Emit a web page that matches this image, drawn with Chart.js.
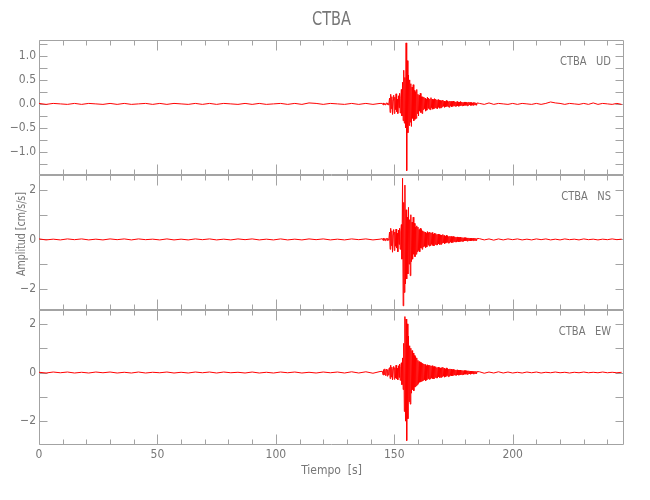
<!DOCTYPE html>
<html>
<head>
<meta charset="utf-8">
<script src="https://cdn.jsdelivr.net/npm/chart.js@4/dist/chart.umd.min.js"></script>
<style>
html, body { margin: 0; padding: 0; background: #fff; }
</style>
</head>
<body>
<canvas id="sismo" width="650" height="500"></canvas>
<script>
const estacion = 'CTBA'
const canales = ['UD', 'NS', 'EW']

// muestreo de cada tramo del registro [s]
const inicioPre = 0, pasoPre = 3
const inicioEvento = 145, pasoEvento = 0.25
const inicioCola = 186, pasoCola = 2

// UD [cm/s/s]
const preUD = [0.01,-0.01,0.01,0,-0.01,0.01,-0.01,0.01,0,-0.01,0.01,-0.01,0.01,-0.01,0,0.01,-0.01,0.01,-0.01,0.01,0,-0.01,0.01,-0.01,0.01,-0.01,0.01,0,-0.01,0.01,-0.01,0.01,-0.01,0,0.01,-0.01,0.01,-0.01,0.02,0.01,-0.01,0.01,0,-0.01,0.01,-0.01,0.01,-0.01,0.01]
const eventoUD = [
  0.01,-0.02,0.02,-0.01,0.01,-0.02,0.01,0.02,-0.01,0.02,-0.02,0.01,
  0.12,-0.18,0.2,-0.1,0.15,-0.22,0.08,0.18,-0.2,0.14,-0.12,0.21,-0.16,0.1,-0.2,0.17,-0.08,0.22,-0.19,0.12,
  0.3,-0.25,0.45,-0.35,0.7,-0.4,0.55,-0.5,
  1.27,-1.39,0.9,-0.6,
  0.6,-0.45,0.5,-0.38,
  0.42,-0.47,0.35,-0.3,0.4,-0.35,0.28,-0.32,0.25,-0.3,0.3,-0.2,
  0.2,-0.25,0.18,-0.15,0.22,-0.18,0.15,-0.2,
  0.15,-0.12,0.14,-0.1,0.12,-0.15,0.1,-0.13,0.14,-0.09,0.12,-0.11,0.1,-0.12,0.13,-0.08,0.1,-0.11,0.09,-0.1,0.11,-0.08,0.1,-0.09,0.08,-0.1,0.09,-0.07,0.08,-0.09,0.07,-0.08,
  0.07,-0.06,0.08,-0.05,0.06,-0.07,0.05,-0.06,0.07,-0.05,0.06,-0.06,0.05,-0.07,0.06,-0.04,0.05,-0.06,0.05,-0.05,0.06,-0.04,0.05,-0.05,0.04,-0.05,0.05,-0.04,0.04,-0.05,0.04,-0.04,0.05,-0.03,0.04,-0.04,0.03,-0.04,0.04,-0.03,0.04,-0.03,0.03,-0.04,0.03,-0.03,0.04,-0.02,0.03,-0.03,0.03,-0.03,0.02,-0.03,0.03,-0.02,0.03,-0.02,0.02,-0.03,0.02
]
const colaUD = [0.01,-0.01,0.02,-0.01,0.01,0,-0.01,0.01,-0.01,0.01,0,-0.01,0.01,-0.01,0.01,0.04,0.02,0.01,-0.01,0.01,0,-0.01,0.01,-0.01,0.02,-0.01,0.01,0,-0.01,0.01,-0.01]

// NS [cm/s/s]
const preNS = [0.02,-0.02,0.01,-0.02,0.02,-0.01,0.02,-0.02,0.01,-0.02,0.02,-0.01,0.02,-0.02,0.02,-0.01,0.01,-0.02,0.02,-0.02,0.01,-0.02,0.02,-0.01,0.02,-0.02,0.01,-0.02,0.02,-0.01,0.02,-0.02,0.01,-0.02,0.02,-0.02,0.01,-0.02,0.02,-0.01,0.02,-0.02,0.01,-0.02,0.02,-0.01,0.02,-0.02,0.01]
const eventoNS = [
  0.03,-0.04,0.05,-0.03,0.04,-0.05,0.03,0.04,-0.04,0.05,-0.03,0.04,
  0.3,-0.4,0.45,-0.25,0.35,-0.52,0.2,0.4,-0.45,0.3,-0.28,0.42,-0.35,0.25,-0.5,0.38,-0.2,0.45,-0.4,0.3,
  0.6,-0.8,2.48,-2.69,1.5,-2.15,2.2,-1.8,
  1.2,-1.6,0.9,-1.4,
  1.3,-1.0,0.8,-1.47,
  1.0,-0.9,0.7,-0.8,0.9,-0.6,0.65,-0.7,0.5,-0.6,0.55,-0.5,
  0.5,-0.45,0.4,-0.5,0.45,-0.35,0.4,-0.4,
  0.35,-0.3,0.32,-0.28,0.3,-0.33,0.25,-0.3,0.32,-0.22,0.28,-0.27,0.3,-0.25,0.26,-0.2,0.28,-0.24,0.22,-0.26,0.25,-0.2,0.24,-0.22,0.2,-0.23,0.22,-0.18,0.2,-0.21,0.18,-0.2,
  0.18,-0.15,0.2,-0.14,0.16,-0.17,0.13,-0.15,0.17,-0.12,0.14,-0.15,0.12,-0.14,0.13,-0.1,0.12,-0.13,0.11,-0.12,0.12,-0.09,0.11,-0.1,0.09,-0.11,0.1,-0.08,0.09,-0.1,0.08,-0.09,0.09,-0.07,0.08,-0.08,0.07,-0.08,0.07,-0.06,0.07,-0.06,0.06,-0.07,0.06,-0.05,0.06,-0.05,0.05,-0.06,0.05,-0.05,0.04,-0.05,0.05,-0.04,0.05,-0.04,0.04,-0.05,0.04
]
const colaNS = [0.03,-0.02,0.02,-0.03,0.02,-0.02,0.02,-0.01,0.02,-0.02,0.01,-0.02,0.02,-0.01,0.02,-0.02,0.01,-0.02,0.02,-0.01,0.01,-0.02,0.02,-0.01,0.01,-0.02,0.01,-0.01,0.02,-0.01,0.01]

// EW [cm/s/s]
const preEW = [0.01,-0.02,0.02,-0.01,0.02,-0.02,0.01,-0.02,0.02,-0.01,0.02,-0.02,0.01,-0.02,0.02,-0.02,0.01,-0.01,0.02,-0.02,0.01,-0.02,0.02,-0.01,0.02,-0.02,0.02,-0.01,0.01,-0.02,0.02,-0.02,0.01,-0.02,0.02,-0.01,0.02,-0.02,0.01,-0.02,0.02,-0.01,0.02,-0.02,0.03,-0.02,0.03,-0.03,0.04]
const eventoEW = [
  0.05,-0.1,0.12,-0.08,0.15,-0.12,0.1,0.14,-0.15,0.12,-0.1,0.15,
  0.2,-0.25,0.3,-0.18,0.22,-0.3,0.15,0.25,-0.28,0.2,-0.22,0.3,-0.25,0.18,-0.3,0.28,-0.2,0.35,-0.32,0.25,
  0.4,-0.5,0.6,-0.7,1.2,-1.6,2.3,-2.0,
  2.2,-2.8,2.0,-1.9,
  1.5,-1.2,1.1,-1.3,
  1.0,-0.85,0.9,-0.7,0.8,-0.75,0.7,-0.6,0.65,-0.55,0.6,-0.5,
  0.5,-0.45,0.45,-0.4,0.42,-0.38,0.4,-0.35,
  0.38,-0.32,0.35,-0.3,0.33,-0.35,0.28,-0.3,0.32,-0.25,0.3,-0.28,0.3,-0.26,0.27,-0.22,0.28,-0.25,0.24,-0.26,0.25,-0.2,0.24,-0.22,0.2,-0.23,0.22,-0.18,0.2,-0.21,0.18,-0.2,
  0.2,-0.17,0.22,-0.15,0.18,-0.19,0.15,-0.17,0.19,-0.13,0.16,-0.17,0.14,-0.15,0.15,-0.12,0.14,-0.14,0.12,-0.13,0.13,-0.1,0.12,-0.11,0.1,-0.12,0.11,-0.09,0.1,-0.11,0.09,-0.1,0.1,-0.08,0.09,-0.09,0.08,-0.09,0.08,-0.07,0.08,-0.07,0.07,-0.08,0.07,-0.06,0.07,-0.06,0.06,-0.07,0.06,-0.05,0.05,-0.06,0.05,-0.05,0.05,-0.04,0.05,-0.05,0.04
]
const colaEW = [0.03,-0.03,0.02,-0.02,0.03,-0.02,0.02,-0.02,0.01,-0.02,0.02,-0.01,0.02,-0.02,0.01,-0.01,0.02,-0.01,0.01,-0.02,0.01,-0.01,0.02,-0.01,0.01,-0.01,0.02,-0.01,0.01,-0.01,0.01]

// rango de cada panel y marcas
const rangoX = [0, 247]
const rangosY = { UD: [-1.48, 1.33], NS: [-2.86, 2.61], EW: [-2.98, 2.57] }
const pasoMenorY = { UD: 0.25, NS: 1, EW: 1 }
const pasoMayorY = { UD: 0.5, NS: 2, EW: 2 }
const decimalesY = { UD: 1, NS: 0, EW: 0 }

const fuente = "'Liberation Sans Narrow', 'DejaVu Sans Condensed', 'DejaVu Sans', sans-serif"
const colorEje = '#a3a3a3'
const colorTexto = '#777777'
const rojo = '#ff0000'

function serie(pre, evento, cola) {
  var puntos = []
  pre.forEach(function (v, i) { puntos.push({ x: inicioPre + i * pasoPre, y: v }) })
  evento.forEach(function (v, i) { puntos.push({ x: inicioEvento + i * pasoEvento, y: v }) })
  cola.forEach(function (v, i) { puntos.push({ x: inicioCola + i * pasoCola, y: v }) })
  return puntos
}

var trazas = {
  UD: serie(preUD, eventoUD, colaUD),
  NS: serie(preNS, eventoNS, colaNS),
  EW: serie(preEW, eventoEW, colaEW)
}

function ejeY(c, peso) {
  return {
    type: 'linear',
    position: 'left',
    stack: 'canales',
    stackWeight: 1,
    weight: peso,
    min: rangosY[c][0],
    max: rangosY[c][1],
    grid: { display: false, drawTicks: false },
    border: { display: false },
    ticks: {
      stepSize: pasoMenorY[c],
      maxTicksLimit: 1000,
      includeBounds: false,
      autoSkip: false,
      padding: 3,
      color: colorTexto,
      font: { family: fuente, size: 12 },
      callback: function (v) {
        var r = v / pasoMayorY[c]
        if (Math.abs(r - Math.round(r)) > 1e-6) return null
        return (v < 0 ? '\u2212' : '') + Math.abs(v).toFixed(decimalesY[c])
      }
    },
    afterFit: function (s) { s.width = 39 }
  }
}

function marcas(min, max, paso) {
  var lista = []
  for (var k = Math.ceil(min / paso - 1e-9); k <= Math.floor(max / paso + 1e-9); k++) lista.push(k * paso)
  return lista
}

function texto(ctx, t, x, y, tam, angulo, estrecho) {
  ctx.save()
  ctx.translate(x, y)
  ctx.rotate(angulo)
  ctx.scale(estrecho, 1)
  ctx.font = tam + 'px ' + fuente
  ctx.fillText(t, 0, 0)
  ctx.restore()
}

const marco = {
  id: 'marco',
  beforeDatasetsDraw: function (chart) {
    var ctx = chart.ctx
    var a = chart.chartArea
    var sx = chart.scales.x
    var izq = Math.round(a.left) + 0.5
    var der = Math.round(a.right) - 0.5
    ctx.save()
    ctx.strokeStyle = colorEje
    ctx.lineWidth = 1
    canales.forEach(function (c) {
      var sy = chart.scales['y' + c]
      var arr = Math.round(sy.top) + 0.5
      var aba = Math.round(sy.bottom) - 0.5
      ctx.beginPath()
      ctx.rect(izq, arr, der - izq, aba - arr)
      marcas(rangosY[c][0], rangosY[c][1], pasoMenorY[c]).forEach(function (v) {
        var py = Math.round(sy.getPixelForValue(v)) + 0.5
        ctx.moveTo(izq, py); ctx.lineTo(izq + 8, py)
        ctx.moveTo(der, py); ctx.lineTo(der - 8, py)
      })
      marcas(rangoX[0], rangoX[1], 10).forEach(function (v) {
        var px = Math.round(sx.getPixelForValue(v)) + 0.5
        var largo = v % 50 === 0 ? 10 : 5
        ctx.moveTo(px, arr); ctx.lineTo(px, arr + largo)
        ctx.moveTo(px, aba); ctx.lineTo(px, aba - largo)
      })
      ctx.stroke()
    })
    ctx.restore()
  },
  afterDatasetsDraw: function (chart) {
    var ctx = chart.ctx
    var a = chart.chartArea
    ctx.save()
    ctx.fillStyle = colorTexto
    ctx.textBaseline = 'middle'
    ctx.textAlign = 'right'
    canales.forEach(function (c) {
      var sy = chart.scales['y' + c]
      texto(ctx, estacion + '   ' + c, a.right - 13, sy.top + 22, 12, 0, 0.92)
    })
    ctx.textAlign = 'center'
    texto(ctx, 'Amplitud [cm/s/s]', 22, 234, 12, -Math.PI / 2, 0.88)
    texto(ctx, estacion, (a.left + a.right) / 2, 20, 19, 0, 0.85)
    ctx.restore()
  }
}

var escalas = {
  x: {
    type: 'linear',
    min: rangoX[0],
    max: rangoX[1],
    grid: { display: false, drawTicks: false },
    border: { display: false },
    ticks: {
      stepSize: 10,
      maxTicksLimit: 1000,
      includeBounds: false,
      autoSkip: false,
      maxRotation: 0,
      padding: 3,
      color: colorTexto,
      font: { family: fuente, size: 12 },
      callback: function (v) { return v % 50 === 0 ? String(v) : null }
    },
    title: {
      display: true,
      text: 'Tiempo  [s]',
      color: colorTexto,
      font: { family: fuente, size: 12 },
      padding: { top: 2, bottom: 2 }
    },
    afterFit: function (s) { s.height = 35 }
  }
}
canales.forEach(function (c, i) { escalas['y' + c] = ejeY(c, canales.length - 1 - i) })

new Chart(document.getElementById('sismo'), {
  type: 'line',
  data: {
    datasets: canales.map(function (c) {
      return {
        label: estacion + ' ' + c,
        data: trazas[c],
        yAxisID: 'y' + c,
        borderColor: rojo,
        borderWidth: 1,
        pointRadius: 0,
        tension: 0,
        fill: false
      }
    })
  },
  options: {
    responsive: false,
    animation: false,
    parsing: false,
    layout: { padding: { left: 0, right: 26, top: 40, bottom: 20 } },
    plugins: {
      legend: { display: false },
      tooltip: { enabled: false },
      title: { display: false }
    },
    scales: escalas
  },
  plugins: [marco]
})
</script>
</body>
</html>
